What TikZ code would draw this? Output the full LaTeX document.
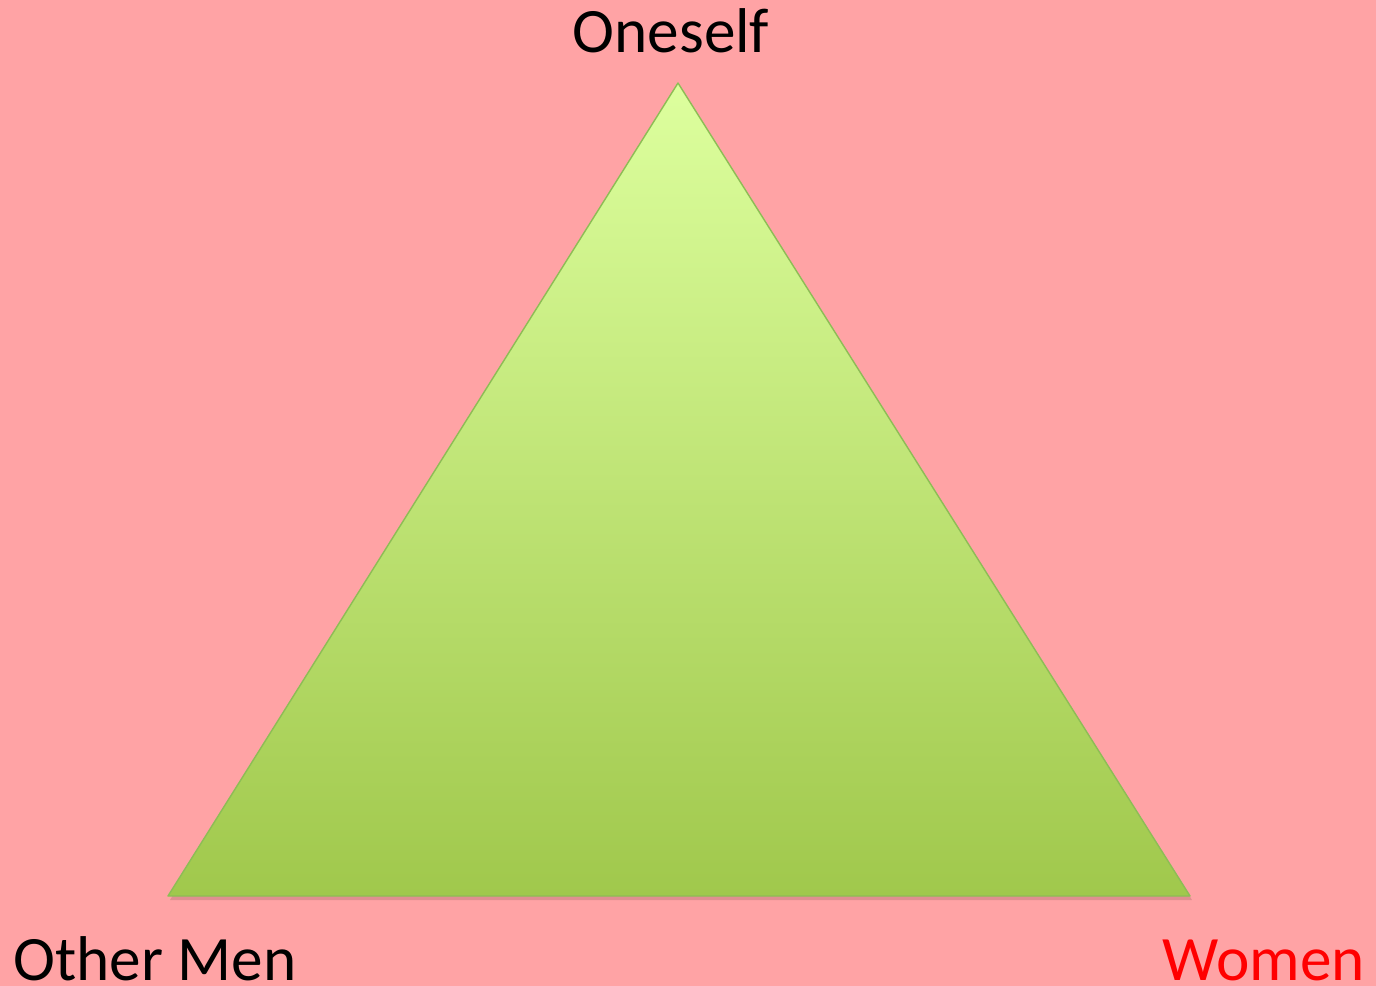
\documentclass[tikz,border=0pt]{standalone}
\usepackage{fontspec}
\setmainfont{Carlito}
\usepackage{xcolor}
\usetikzlibrary{positioning, calc}

\definecolor{bgpink}{HTML}{FFA3A5}
\definecolor{tritop}{HTML}{DDFF9E}
\definecolor{tribottom}{HTML}{A0C84C}
\definecolor{triedge}{HTML}{8DBD55}
\definecolor{womenred}{HTML}{FF0000}

\begin{document}
\begin{tikzpicture}[
			x=0.02cm, y=-0.02cm,
			% --- Styles ---
			corner/.style={
				font=\fontsize{36}{40}\selectfont, inner sep=0pt, text=black
			},
			pyramid/.style={
				draw=triedge, line width=0.8pt, line join=round,
				top color=tritop, bottom color=tribottom
			}
			]
			
			% --- 1. Background ---
			\fill [bgpink] (0,0) rectangle (1376,986);
			\useasboundingbox (0,0) rectangle (1376,986);
			
			% --- 2. Corners of the triangle ---
			\coordinate (apex) at (678,83);
			\coordinate (base_left) at (168,896);
			\coordinate (base_right) at (1190,896);
			
			% Soft shadow under the base
			\fill [black, opacity=0.12] ($(apex)+(2,4)$) -- ($(base_left)+(2,4)$) -- ($(base_right)+(2,4)$) -- cycle;
			
			% The triangle itself
			\path [pyramid] (apex) -- (base_left) -- (base_right) -- cycle;
			
			% --- 3. Labels ---
			\node [corner, anchor=base] (oneself) at (671,53) {Oneself};
			\node [corner, anchor=base west] (other_men) at (13,980) {Other Men};
			\node [corner, anchor=base east, text=womenred] (women) at (1365,980) {Women};
			
		\end{tikzpicture}
\end{document}
